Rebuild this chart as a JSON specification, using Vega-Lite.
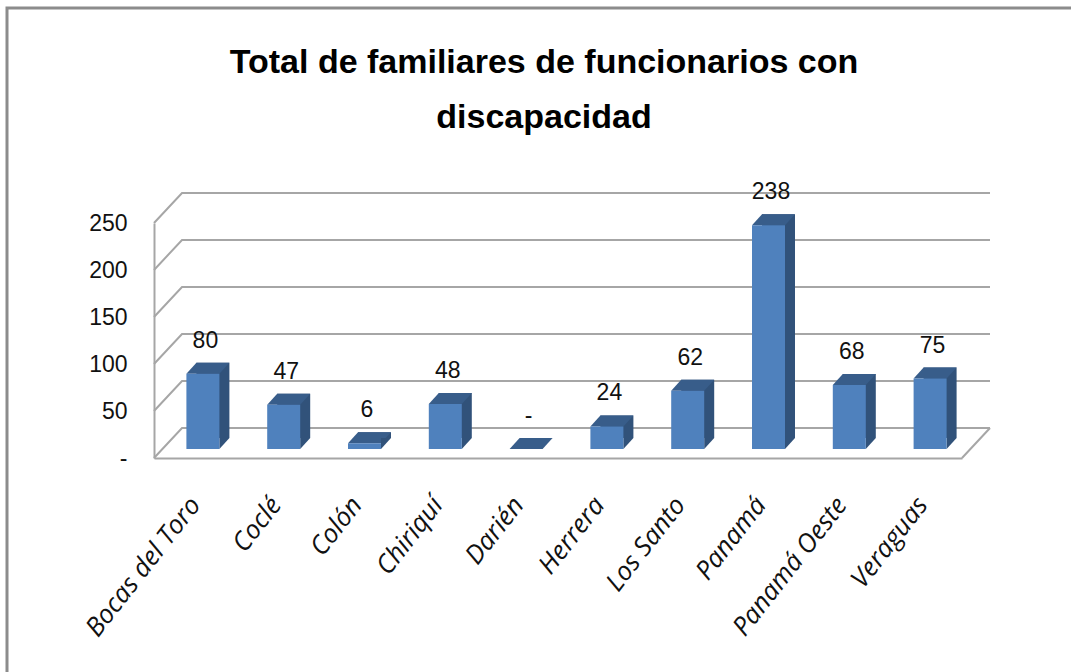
{"$schema":"https://vega.github.io/schema/vega-lite/v6.json","width":808,"height":235,"autosize":{"type":"none"},"padding":{"left":154,"top":223,"right":109,"bottom":214},"background":"white","view":{"stroke":null},
"title":{"text":["Total de familiares de funcionarios con","discapacidad"],"font":"Liberation Sans","fontSize":34,"fontWeight":"bold","color":"black","lineHeight":55,"anchor":"middle","frame":"group","dx":-14,"offset":-133},
"datasets":{"provincias":[{"provincia":"Bocas del Toro","total":80,"etiqueta":"80"},{"provincia":"Coclé","total":47,"etiqueta":"47"},{"provincia":"Colón","total":6,"etiqueta":"6"},{"provincia":"Chiriquí","total":48,"etiqueta":"48"},{"provincia":"Darién","total":0,"etiqueta":"-"},{"provincia":"Herrera","total":24,"etiqueta":"24"},{"provincia":"Los Santo","total":62,"etiqueta":"62"},{"provincia":"Panamá","total":238,"etiqueta":"238"},{"provincia":"Panamá Oeste","total":68,"etiqueta":"68"},{"provincia":"Veraguas","total":75,"etiqueta":"75"}],"niveles":[{"nivel":0},{"nivel":50},{"nivel":100},{"nivel":150},{"nivel":200},{"nivel":250}]},
"encoding":{"x":{"field":"provincia","type":"nominal","sort":null,"title":null,"scale":{"type":"band","paddingInner":0,"paddingOuter":0,"domain":["Bocas del Toro","Coclé","Colón","Chiriquí","Darién","Herrera","Los Santo","Panamá","Panamá Oeste","Veraguas"]},"axis":{"domainColor":"#a6a6a6","domainWidth":2,"ticks":false,"labelAngle":-52,"labelAlign":"right","labelBaseline":"middle","labelFont":"Open Sans","labelFontStyle":"italic","labelFontSize":26,"labelColor":"#111111","labelPadding":42,"labelOffset":1,"labelOverlap":false,"labelBound":false,"labelFlush":false,"labelLimit":300,"grid":false}},
"y":{"type":"quantitative","title":null,"scale":{"domain":[0,250],"nice":false},"axis":{"values":[0,50,100,150,200,250],"domainColor":"#a6a6a6","domainWidth":2,"ticks":false,"grid":false,"labelExpr":"datum.value === 0 ? '-' : datum.label","labelFont":"Liberation Sans","labelFontSize":23,"labelColor":"#111111","labelPadding":27}}},
"layer":[
{"data":{"name":"niveles"},"mark":{"type":"point","shape":"M-147,450L-147,-215L918,-215","size":4,"filled":false,"stroke":"#8c8c8c","strokeWidth":3,"opacity":1,"clip":false},"transform":[{"filter":"datum.nivel === 250"}],"encoding":{"x":{"datum":"Bocas del Toro","bandPosition":0},"y":{"field":"nivel"}}},
{"data":{"name":"niveles"},"mark":{"type":"point","shape":"M0,0L28,-30L836,-30","size":4,"filled":false,"stroke":"#a6a6a6","strokeWidth":2,"opacity":1},"encoding":{"x":{"datum":"Bocas del Toro","bandPosition":0},"y":{"field":"nivel"}}},
{"data":{"name":"niveles"},"mark":{"type":"point","shape":"M0,0L28,-30","size":4,"filled":false,"stroke":"#a6a6a6","strokeWidth":2,"opacity":1},"transform":[{"filter":"datum.nivel === 0"}],"encoding":{"x":{"datum":"Veraguas","bandPosition":1},"y":{"field":"nivel"}}},
{"data":{"name":"provincias"},"mark":{"type":"bar","size":33,"color":"#31527a","xOffset":18.5,"yOffset":-20,"y2Offset":-20},"encoding":{"y":{"field":"total"},"y2":{"datum":0}}},
{"data":{"name":"provincias"},"mark":{"type":"point","shape":"M-16.5,0L-6.5,-11L26.5,-11L16.5,0Z","size":4,"filled":true,"fill":"#385d8a","opacity":1,"xOffset":8.5,"yOffset":-9},"encoding":{"y":{"field":"total"}}},
{"data":{"name":"provincias"},"mark":{"type":"point","shape":"M16.5,0L26.5,-11L16.5,-11Z","size":4,"filled":true,"fill":"#31527a","opacity":1,"xOffset":8.5,"yOffset":-9},"transform":[{"filter":"datum.total > 0"}],"encoding":{"y":{"datum":0}}},
{"data":{"name":"provincias"},"mark":{"type":"bar","size":33,"color":"#4f81bd","xOffset":8.5,"yOffset":-9,"y2Offset":-9},"encoding":{"y":{"field":"total"},"y2":{"datum":0}}},
{"data":{"name":"provincias"},"mark":{"type":"text","font":"Liberation Sans","fontSize":23,"color":"#111111","baseline":"middle","xOffset":11,"yOffset":-42},"encoding":{"y":{"field":"total"},"text":{"field":"etiqueta"}}}
]}
